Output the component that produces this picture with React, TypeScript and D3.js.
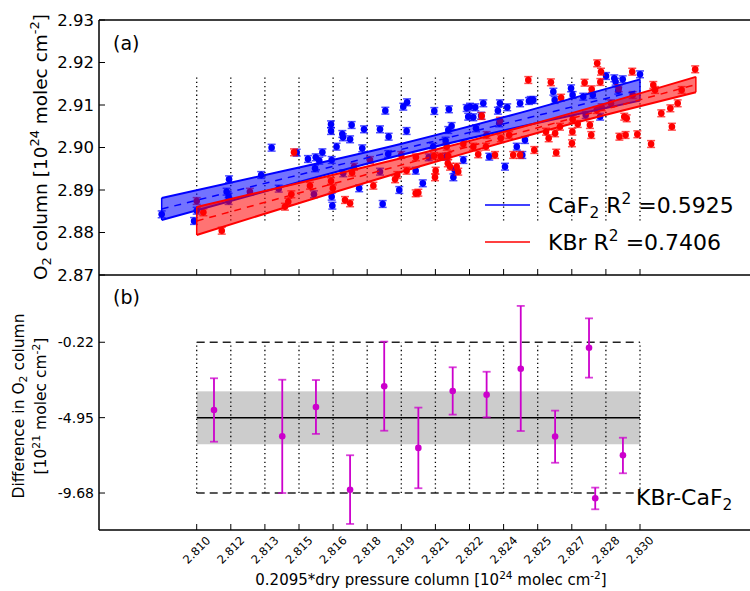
import React from 'react';
import * as d3 from 'd3';

// CaF2 retrievals (x: 0.2095*dry pressure column, y: O2 column), 1e24 molec cm-2
const caf2Points: [number, number][] = [
  [2.80842, 2.88428], [2.80988, 2.88271], [2.81, 2.88513], [2.81146, 2.89252], [2.81135, 2.8896],
  [2.81144, 2.88842], [2.81144, 2.88741], [2.81291, 2.89353], [2.81338, 2.89995], [2.8137, 2.89031],
  [2.81451, 2.89878], [2.81502, 2.89729], [2.81537, 2.89769], [2.81567, 2.89887], [2.81534, 2.89511],
  [2.81553, 2.89689], [2.81529, 2.88899], [2.81606, 2.90546], [2.81606, 2.90388], [2.81609, 2.89706],
  [2.81609, 2.88842], [2.81612, 2.88631], [2.81631, 2.90019], [2.81657, 2.90318], [2.8166, 2.9024],
  [2.81699, 2.90529], [2.81692, 2.90193], [2.81661, 2.89393], [2.81747, 2.89981], [2.81755, 2.90428],
  [2.81733, 2.8904], [2.81827, 2.90428], [2.81851, 2.90866], [2.81866, 2.90254], [2.81827, 2.89431],
  [2.81839, 2.88671], [2.81864, 2.89847], [2.81932, 2.9096], [2.81949, 2.91064], [2.81947, 2.90388],
  [2.81914, 2.89], [2.81988, 2.89454], [2.8202, 2.89158], [2.82072, 2.90859], [2.82047, 2.89769],
  [2.82138, 2.90899], [2.82135, 2.90412], [2.82067, 2.90019], [2.82123, 2.9016], [2.82125, 2.89784],
  [2.8215, 2.90506], [2.82158, 2.89299], [2.82164, 2.89471], [2.82203, 2.89706], [2.82218, 2.90929],
  [2.82225, 2.90725], [2.82233, 2.9096], [2.82248, 2.90711], [2.82257, 2.90946], [2.8226, 2.90452],
  [2.82283, 2.90748], [2.82293, 2.9104], [2.8232, 2.89784], [2.82359, 2.90866], [2.82368, 2.9104],
  [2.82365, 2.90569], [2.82401, 2.90946], [2.82391, 2.89548], [2.82444, 2.90019], [2.82459, 2.9104],
  [2.82469, 2.89824], [2.82481, 2.90176], [2.82499, 2.91094], [2.82507, 2.91118], [2.82519, 2.91118],
  [2.82609, 2.91313], [2.82615, 2.91118], [2.82689, 2.91393], [2.82696, 2.91235], [2.82744, 2.91195],
  [2.82787, 2.91235], [2.82755, 2.90765], [2.8282, 2.90725], [2.82847, 2.91682], [2.82884, 2.91628],
  [2.8289, 2.91548], [2.82922, 2.91605], [2.83, 2.91722], [2.82902, 2.91336],
];

// KBr retrievals
const kbrPoints: [number, number][] = [
  [2.81, 2.88741], [2.8103, 2.88475], [2.81113, 2.88042], [2.8124, 2.8896], [2.81439, 2.89887],
  [2.81427, 2.88899], [2.81413, 2.88725], [2.81398, 2.88607], [2.81511, 2.89101], [2.81606, 2.89212],
  [2.81614, 2.8904], [2.81669, 2.88765], [2.81692, 2.88687], [2.8171, 2.89548], [2.81701, 2.89407],
  [2.81782, 2.89706], [2.81797, 2.89101], [2.81895, 2.89252], [2.81905, 2.89353], [2.81923, 2.89824],
  [2.81947, 2.89454], [2.81988, 2.88922], [2.82, 2.88937], [2.81989, 2.89769], [2.82071, 2.898],
  [2.82078, 2.89454], [2.82075, 2.89299], [2.82101, 2.89784], [2.82128, 2.90019], [2.82135, 2.898],
  [2.82143, 2.89548], [2.82133, 2.89628], [2.82173, 2.89548], [2.8218, 2.89431], [2.82203, 2.90082],
  [2.82248, 2.90019], [2.8227, 2.8984], [2.82286, 2.90741], [2.82305, 2.90019], [2.82308, 2.90294],
  [2.82346, 2.89824], [2.82368, 2.90631], [2.82372, 2.90216], [2.8241, 2.90294], [2.82428, 2.89824],
  [2.82459, 2.89824], [2.82496, 2.91588], [2.82523, 2.89941], [2.82576, 2.90372], [2.82588, 2.90216],
  [2.82598, 2.91534], [2.82622, 2.89878], [2.82617, 2.90334], [2.82644, 2.91172], [2.82639, 2.90489],
  [2.82693, 2.90099], [2.82695, 2.90372], [2.82696, 2.90664], [2.82719, 2.90553], [2.8275, 2.91525],
  [2.82774, 2.90529], [2.82782, 2.91369], [2.8278, 2.90294], [2.82805, 2.90882], [2.82807, 2.91981],
  [2.82824, 2.91784], [2.82821, 2.91541], [2.82827, 2.90946], [2.82869, 2.9104], [2.82907, 2.90254],
  [2.82904, 2.91393], [2.82929, 2.90725], [2.8294, 2.90687], [2.82935, 2.90294], [2.82965, 2.91784],
  [2.82988, 2.90311], [2.8306, 2.91471], [2.83068, 2.91353], [2.8305, 2.90082], [2.83096, 2.90805],
  [2.83137, 2.90922], [2.83144, 2.90489], [2.8317, 2.9104], [2.83188, 2.91353], [2.83249, 2.9184],
  [2.82967, 2.91235],
];
const pointErr = 0.0008;

// regression lines and confidence bands: [x, lower, upper]
const caf2Fit: [number, number][] = [[2.80842, 2.88553], [2.83, 2.91353]];
const caf2Band: [number, number, number][] = [
  [2.80842, 2.88293, 2.88813], [2.814, 2.89097, 2.89457], [2.8192, 2.89822, 2.90082],
  [2.825, 2.90534, 2.90874], [2.83, 2.91103, 2.91603],
];
const kbrFit: [number, number][] = [[2.81, 2.88271], [2.83252, 2.91482]];
const kbrBand: [number, number, number][] = [
  [2.81, 2.87941, 2.88601], [2.815, 2.88754, 2.89214], [2.82, 2.89547, 2.89847],
  [2.825, 2.9029, 2.9053], [2.829, 2.9084, 2.9112], [2.83252, 2.91302, 2.91662],
];

// panel (b): binned KBr-CaF2 differences, 1e21 molec cm-2
const diffX = [2.81078, 2.81386, 2.81538, 2.81692, 2.81846, 2.82, 2.82155, 2.82308, 2.82462, 2.82617, 2.8277, 2.82798, 2.82923];
const diffY = [-4.47, -6.12, -4.28, -9.47, -2.98, -6.85, -3.28, -3.51, -1.88, -6.14, -0.56, -10.01, -7.31];
const diffHi = [-2.48, -2.57, -2.59, -7.31, -0.18, -4.32, -1.79, -2.07, 2.06, -4.51, 1.28, -9.34, -6.21];
const diffLo = [-6.46, -9.68, -5.97, -11.62, -5.77, -9.38, -4.76, -4.93, -5.79, -7.78, -2.44, -10.7, -8.44];
const diffMean = -4.95;
const diffBand = [-6.62, -3.3];
const diffLimits = [-9.68, -0.22];

const xTickLabels = ['2.810', '2.812', '2.813', '2.815', '2.816', '2.818', '2.819', '2.821', '2.822', '2.824', '2.825', '2.827', '2.828', '2.830'];
const xTicks = xTickLabels.map((_, i) => 2.81 + (i * 0.02) / 13);
const yTopTicks = [2.87, 2.88, 2.89, 2.9, 2.91, 2.92, 2.93];
const yBotTicks = [-9.68, -4.95, -0.22];
const gridRange = [2.8828, 2.9165];

const FONT = 'DejaVu Sans, sans-serif';
const BLUE = '#0000ff';
const RED = '#ff0000';
const MAG = '#cc00cc';

type Seg = { t: string; sup?: boolean; sub?: boolean };

function Rich({ segs, size, ...rest }: { segs: Seg[]; size: number; [k: string]: any }) {
  let cur = 0;
  return (
    <text fontSize={size} {...rest}>
      {segs.map((s, i) => {
        const target = s.sup ? -0.42 * size : s.sub ? 0.22 * size : 0;
        const dy = target - cur;
        cur = target;
        return (
          <tspan key={i} dy={dy} fontSize={s.sup || s.sub ? size * 0.7 : size}>
            {s.t}
          </tspan>
        );
      })}
    </text>
  );
}

function Points({ pts, color, x, y }: { pts: [number, number][]; color: string; x: any; y: any }) {
  return (
    <g>
      {pts.map(([px, py], i) => {
        const cx = x(px);
        const y0 = y(py - pointErr);
        const y1 = y(py + pointErr);
        return (
          <g key={i}>
            <line x1={cx} x2={cx} y1={y0} y2={y1} stroke={color} strokeWidth={1.5} />
            <line x1={cx - 4} x2={cx + 4} y1={y0} y2={y0} stroke={color} strokeWidth={1.5} strokeOpacity={0.7} />
            <line x1={cx - 4} x2={cx + 4} y1={y1} y2={y1} stroke={color} strokeWidth={1.5} strokeOpacity={0.7} />
            <circle cx={cx} cy={y(py)} r={3.3} fill={color} />
          </g>
        );
      })}
    </g>
  );
}

function Band({ band, fit, color, x, y }: { band: [number, number, number][]; fit: [number, number][]; color: string; x: any; y: any }) {
  const area = d3
    .area<[number, number, number]>()
    .x((d) => x(d[0]))
    .y0((d) => y(d[1]))
    .y1((d) => y(d[2]))
    .curve(d3.curveNatural);
  const lo = d3.line<[number, number, number]>().x((d) => x(d[0])).y((d) => y(d[1])).curve(d3.curveNatural);
  const hi = d3.line<[number, number, number]>().x((d) => x(d[0])).y((d) => y(d[2])).curve(d3.curveNatural);
  const first = band[0];
  const last = band[band.length - 1];
  return (
    <g>
      <path d={area(band) || ''} fill={color} fillOpacity={0.55} stroke="none" />
      <path d={lo(band) || ''} fill="none" stroke={color} strokeWidth={2} />
      <path d={hi(band) || ''} fill="none" stroke={color} strokeWidth={2} />
      <line x1={x(first[0])} x2={x(first[0])} y1={y(first[1])} y2={y(first[2])} stroke={color} strokeWidth={1.5} />
      <line x1={x(last[0])} x2={x(last[0])} y1={y(last[1])} y2={y(last[2])} stroke={color} strokeWidth={1.5} />
      <line
        x1={x(fit[0][0])} y1={y(fit[0][1])} x2={x(fit[1][0])} y2={y(fit[1][1])}
        stroke={color} strokeWidth={1.5} strokeDasharray="7,6"
      />
    </g>
  );
}

export default function App() {
  const W = 750;
  const H = 591;
  const left = 99;
  const right = 760;
  const topA = 20;
  const botA = 275;
  const botB = 530;

  const x = d3.scaleLinear().domain([2.81, 2.83]).range([196.7, 640]);
  const yA = d3.scaleLinear().domain([2.87, 2.93]).range([botA, topA]);
  const yB = d3.scaleLinear().domain([-12, 4]).range([botB, botA]);
  const x0 = x(2.81);
  const x1 = x(2.83);

  return (
    <svg width={W} height={H} style={{ position: 'absolute', left: 0, top: 0, background: '#fff' }} fontFamily={FONT}>
      <rect width={W} height={H} fill="#fff" />

      {/* panel (a) */}
      {xTicks.map((t, i) => (
        <line key={i} x1={x(t)} x2={x(t)} y1={yA(gridRange[0])} y2={yA(gridRange[1])}
          stroke="#000" strokeWidth={1.3} strokeDasharray="1.3,3" />
      ))}
      <Points pts={caf2Points} color={BLUE} x={x} y={yA} />
      <Points pts={kbrPoints} color={RED} x={x} y={yA} />
      <Band band={caf2Band} fit={caf2Fit} color={BLUE} x={x} y={yA} />
      <Band band={kbrBand} fit={kbrFit} color={RED} x={x} y={yA} />

      {/* legend */}
      <line x1={485} x2={530} y1={205} y2={205} stroke={BLUE} strokeWidth={1.5} />
      <Rich x={548} y={213} size={22} fill="#000"
        segs={[{ t: 'CaF' }, { t: '2', sub: true }, { t: ' R' }, { t: '2', sup: true }, { t: ' =0.5925' }]} />
      <line x1={485} x2={530} y1={242} y2={242} stroke={RED} strokeWidth={1.5} />
      <Rich x={548} y={250} size={22} fill="#000"
        segs={[{ t: 'KBr R' }, { t: '2', sup: true }, { t: ' =0.7406' }]} />

      <text x={113} y={50} fontSize={19}>(a)</text>

      {/* panel (b) */}
      <rect x={x0} width={x1 - x0} y={yB(diffBand[1])} height={yB(diffBand[0]) - yB(diffBand[1])} fill="#cccccc" />
      {xTicks.map((t, i) => (
        <line key={i} x1={x(t)} x2={x(t)} y1={yB(diffLimits[0])} y2={yB(diffLimits[1])}
          stroke="#000" strokeWidth={1.3} strokeDasharray="1.3,3" />
      ))}
      {diffLimits.map((v, i) => (
        <line key={i} x1={x0} x2={x1} y1={yB(v)} y2={yB(v)} stroke="#222" strokeWidth={1.5} strokeDasharray="8,5" />
      ))}
      <line x1={x0} x2={x1} y1={yB(diffMean)} y2={yB(diffMean)} stroke="#000" strokeWidth={1.5} />
      {diffX.map((dx, i) => {
        const cx = x(dx);
        return (
          <g key={i}>
            <line x1={cx} x2={cx} y1={yB(diffLo[i])} y2={yB(diffHi[i])} stroke={MAG} strokeWidth={1.8} />
            <line x1={cx - 4} x2={cx + 4} y1={yB(diffLo[i])} y2={yB(diffLo[i])} stroke={MAG} strokeWidth={1.8} strokeOpacity={0.75} />
            <line x1={cx - 4} x2={cx + 4} y1={yB(diffHi[i])} y2={yB(diffHi[i])} stroke={MAG} strokeWidth={1.8} strokeOpacity={0.75} />
            <circle cx={cx} cy={yB(diffY[i])} r={3.3} fill={MAG} />
          </g>
        );
      })}
      <Rich x={636} y={505} size={22} fill="#000" segs={[{ t: 'KBr-CaF' }, { t: '2', sub: true }]} />
      <text x={113} y={304} fontSize={19}>(b)</text>

      {/* axes frames */}
      <line x1={left} x2={right} y1={topA} y2={topA} stroke="#000" strokeWidth={1.5} />
      <line x1={left} x2={right} y1={botA} y2={botA} stroke="#000" strokeWidth={1.5} />
      <line x1={left} x2={right} y1={botB} y2={botB} stroke="#000" strokeWidth={1.5} />
      <line x1={left} x2={left} y1={topA} y2={botB} stroke="#000" strokeWidth={1.5} />

      {/* x ticks */}
      {xTicks.map((t, i) => (
        <g key={i}>
          <line x1={x(t)} x2={x(t)} y1={botA} y2={botA - 6} stroke="#000" strokeWidth={1} />
          <line x1={x(t)} x2={x(t)} y1={botB} y2={botB - 6} stroke="#000" strokeWidth={1} />
          <text x={x(t)} y={550} fontSize={11.5} textAnchor="middle" dominantBaseline="central"
            transform={`rotate(-45, ${x(t)}, 550)`}>{xTickLabels[i]}</text>
        </g>
      ))}

      {/* y ticks panel (a) */}
      {yTopTicks.map((t, i) => (
        <g key={i}>
          <line x1={left} x2={left + 6} y1={yA(t)} y2={yA(t)} stroke="#000" strokeWidth={1} />
          <text x={94} y={yA(t)} fontSize={16.5} textAnchor="end" dominantBaseline="central">{t.toFixed(2)}</text>
        </g>
      ))}
      {/* y ticks panel (b) */}
      {yBotTicks.map((t, i) => (
        <g key={i}>
          <line x1={left} x2={left + 6} y1={yB(t)} y2={yB(t)} stroke="#000" strokeWidth={1} />
          <text x={94} y={yB(t)} fontSize={14} textAnchor="end" dominantBaseline="central">{t.toFixed(2)}</text>
        </g>
      ))}

      {/* axis labels */}
      <Rich x={0} y={0} size={18.5} textAnchor="middle" transform="translate(47,147) rotate(-90)"
        segs={[{ t: 'O' }, { t: '2', sub: true }, { t: ' column [10' }, { t: '24', sup: true }, { t: ' molec cm' }, { t: '-2', sup: true }, { t: ']' }]} />
      <Rich x={0} y={0} size={15.5} textAnchor="middle" transform="translate(24,406) rotate(-90)"
        segs={[{ t: 'Difference in O' }, { t: '2', sub: true }, { t: '  column' }]} />
      <Rich x={0} y={0} size={15.5} textAnchor="middle" transform="translate(46,406) rotate(-90)"
        segs={[{ t: '[10' }, { t: '21', sup: true }, { t: '  molec cm' }, { t: '-2', sup: true }, { t: ']' }]} />
      <Rich x={431} y={585} size={15} textAnchor="middle"
        segs={[{ t: '0.2095*dry pressure column [10' }, { t: '24', sup: true }, { t: ' molec cm' }, { t: '-2', sup: true }, { t: ']' }]} />
    </svg>
  );
}
